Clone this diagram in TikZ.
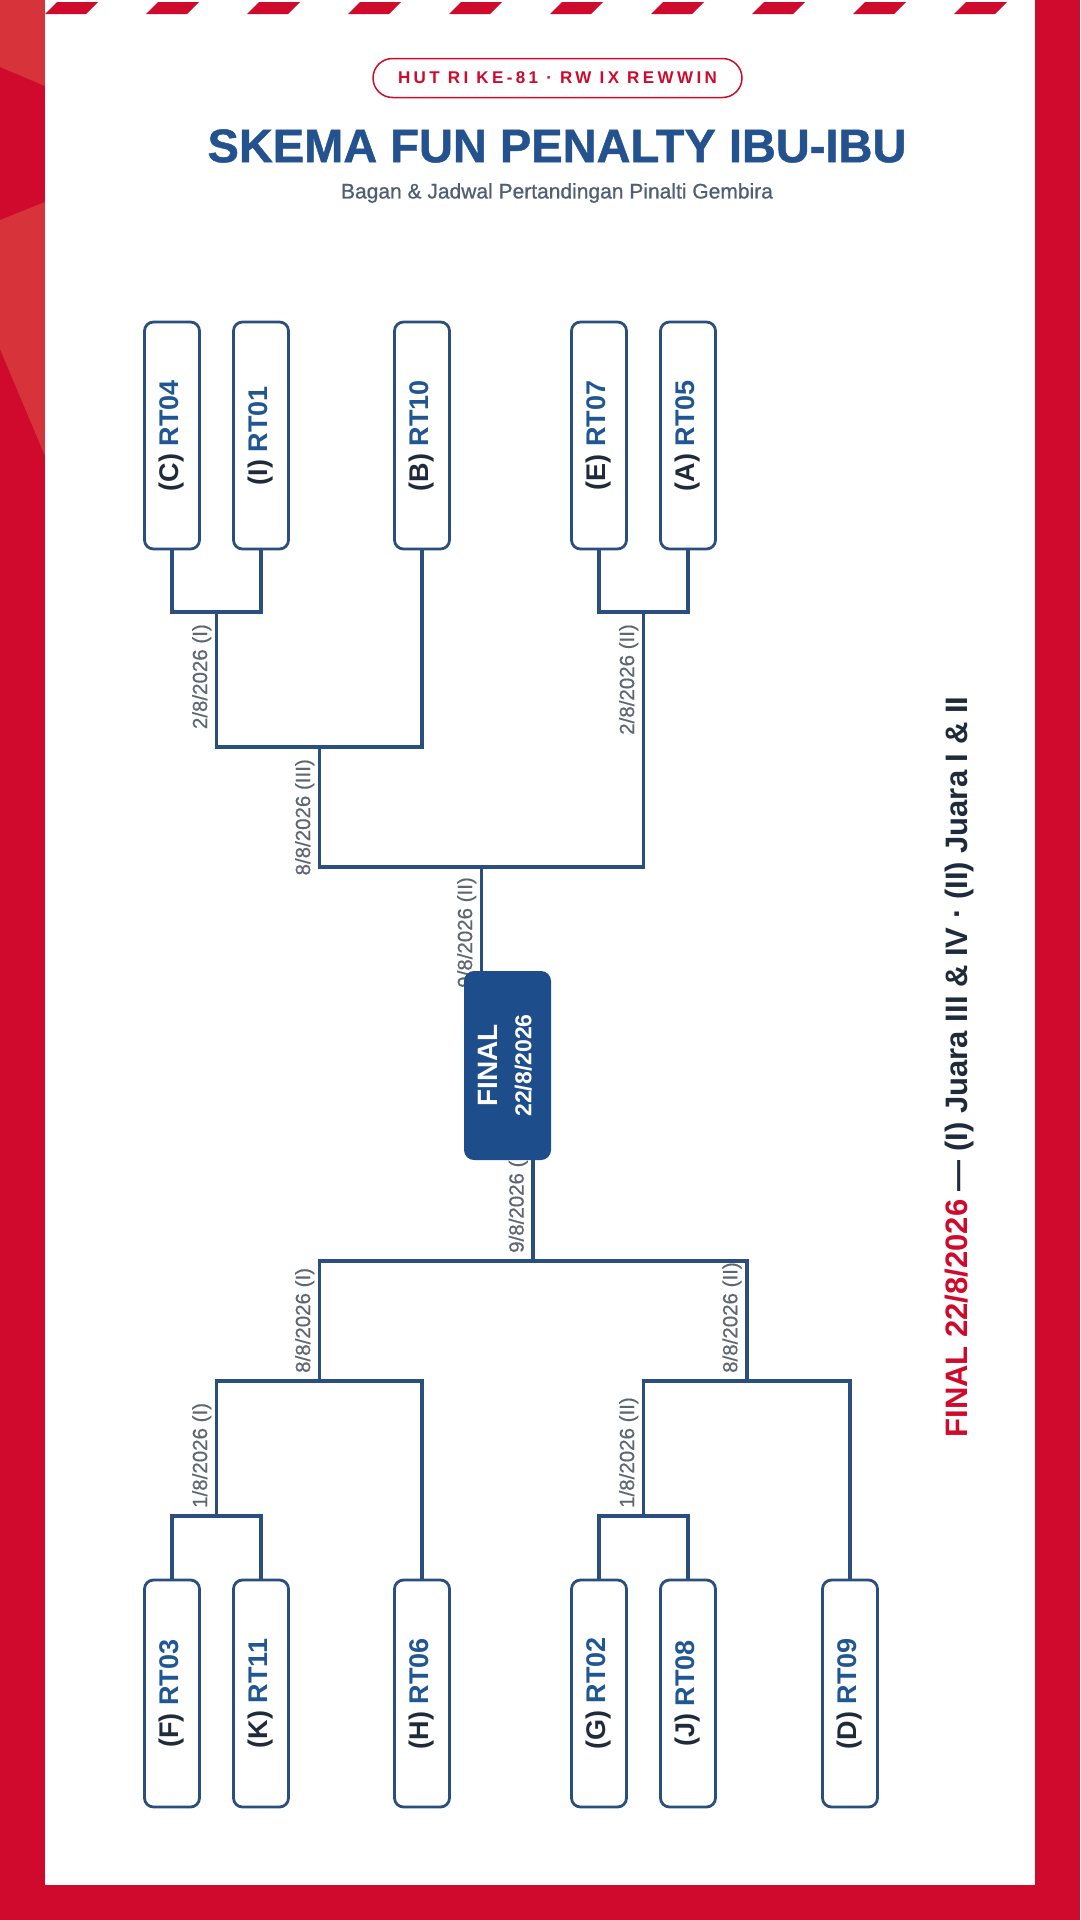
\documentclass[tikz,border=0pt]{standalone}
\usepackage{fontspec}
\setmainfont{Liberation Sans}
\usepackage{graphicx}
\usetikzlibrary{backgrounds}

\definecolor{merah}{HTML}{CF0A2C}
\definecolor{merahmuda}{HTML}{D6343A}
\definecolor{garis}{HTML}{2A4F7F}
\definecolor{finalbiru}{HTML}{1E4D8C}
\definecolor{judulbiru}{HTML}{23528E}
\definecolor{subabu}{HTML}{4F5E72}
\definecolor{abu}{HTML}{5E6672}
\definecolor{hitam}{HTML}{1F2B3A}
\definecolor{rtbiru}{HTML}{1F5693}

\newcommand{\timrt}[2]{\rotatebox{90}{\textcolor{hitam}{(#1)} \textcolor{rtbiru}{#2}}}
\newcommand{\tgl}[1]{\rotatebox{90}{#1}}

\begin{document}
\begin{tikzpicture}[x=1pt,y=-1pt]
\tikzstyle{team} = [rectangle, draw=garis, line width=2.8pt, fill=white,
rounded corners=9pt, minimum width=55pt, minimum height=227pt, inner sep=0pt,
font=\fontsize{27}{30}\selectfont\bfseries]
\tikzstyle{final} = [rectangle, fill=finalbiru, rounded corners=10pt,
minimum width=87pt, minimum height=189pt, inner sep=0pt, text=white,
font=\fontsize{28}{34}\selectfont]
\tikzstyle{pill} = [rectangle, draw=merah, line width=1.5pt, fill=white,
rounded corners=19.5pt, minimum width=369pt, minimum height=39pt, text=merah,
font=\fontsize{17}{19}\selectfont\bfseries\addfontfeature{LetterSpace=20}]
\tikzstyle{tanggal} = [inner sep=0pt, text=abu,
font=\fontsize{20.5}{22}\selectfont\addfontfeature{FakeBold=0.4}]
\tikzstyle{line} = [draw=garis, line width=3.5pt];

\useasboundingbox (0,0) rectangle (1080,1920);

% frame
\begin{scope}[on background layer]
\fill[merah] (0,0) rectangle (1080,1920);
\fill[merahmuda] (0,0) -- (45,0) -- (45,86) -- (0,67) -- cycle;
\fill[merahmuda] (0,220) -- (45,202) -- (45,456) -- (0,349) -- cycle;
\fill[white] (45,0) rectangle (1035,1885);
\foreach \i in {0,...,9}
  \fill[merah] ({45+101*\i},14) -- ++(41,0) -- ++(12,-12) -- ++(-41,0) -- cycle;
\end{scope}

% header
\node[pill] (badge) at (557.5,78) {HUT RI KE-81 · RW IX REWWIN};
\node[inner sep=0pt, text=judulbiru,
  font=\fontsize{47}{50}\selectfont\bfseries\addfontfeature{FakeBold=1}]
  (judul) at (557,146) {SKEMA FUN PENALTY IBU-IBU};
\node[inner sep=0pt, text=subabu,
  font=\fontsize{21}{24}\selectfont\addfontfeature{FakeBold=0.8}]
  (subjudul) at (557,193) {Bagan \& Jadwal Pertandingan Pinalti Gembira};

% row 1: top teams
\node[team] (tC) at (172,435.5) {\timrt{C}{RT04}};
\node[team] (tI) at (261,435.5) {\timrt{I}{RT01}};
\node[team] (tB) at (422,435.5) {\timrt{B}{RT10}};
\node[team] (tE) at (599,435.5) {\timrt{E}{RT07}};
\node[team] (tA) at (688,435.5) {\timrt{A}{RT05}};

% row 2: final
\node[final] (final) at (507.5,1065.5) {\rotatebox{90}{\begin{tabular}{@{}c@{}}
  \bfseries FINAL\\ {\fontsize{23}{34}\selectfont\bfseries 22/8/2026}\end{tabular}}};

% row 3: bottom teams
\node[team] (bF) at (172,1693.5) {\timrt{F}{RT03}};
\node[team] (bK) at (261,1693.5) {\timrt{K}{RT11}};
\node[team] (bH) at (422,1693.5) {\timrt{H}{RT06}};
\node[team] (bG) at (599,1693.5) {\timrt{G}{RT02}};
\node[team] (bJ) at (688,1693.5) {\timrt{J}{RT08}};
\node[team] (bD) at (850,1693.5) {\timrt{D}{RT09}};

% side note
\node[inner sep=0pt, font=\fontsize{31}{34}\selectfont\bfseries] (ket) at (959,1067)
  {\rotatebox{90}{\textcolor{merah}{FINAL 22/8/2026} \textcolor{hitam}{— (I) Juara III \& IV · (II) Juara I \& II}}};

% junctions
\coordinate (jCI) at (216.5,612);
\coordinate (jCIB) at (319.5,747);
\coordinate (jEA) at (643.5,612);
\coordinate (jTop) at (481.5,867);
\coordinate (jFK) at (216.5,1516);
\coordinate (jFKH) at (319.5,1381);
\coordinate (jGJ) at (643.5,1516);
\coordinate (jGJD) at (746.75,1381);
\coordinate (jBot) at (533,1261);

\tikzstyle{every path}=[line]
\path (tC.south) |- (jCI) -| (tI.south);
\path (jCI) |- (jCIB) -| (tB.south);
\path (tE.south) |- (jEA) -| (tA.south);
\path (jCIB) |- (jTop) -| (jEA);
\path (jTop) -- (jTop |- final.north);
\path (bF.north) |- (jFK) -| (bK.north);
\path (jFK) |- (jFKH) -| (bH.north);
\path (bG.north) |- (jGJ) -| (bJ.north);
\path (jGJ) |- (jGJD) -| (bD.north);
\path (jFKH) |- (jBot) -| (jGJD);
\path (jBot) -- (jBot |- final.south);
\tikzstyle{every path}=[]

% dates
\begin{scope}[on background layer]
\node[tanggal, anchor=north east] (d1) at ([xshift=-5pt,yshift=-12pt]jCI) {\tgl{2/8/2026 (I)}};
\node[tanggal, anchor=north east] (d2) at ([xshift=-5pt,yshift=-12pt]jEA) {\tgl{2/8/2026 (II)}};
\node[tanggal, anchor=north east] (d3) at ([xshift=-5pt,yshift=-12pt]jCIB) {\tgl{8/8/2026 (III)}};
\node[tanggal, anchor=north east] (d4) at ([xshift=-5pt,yshift=-10pt]jTop) {\tgl{9/8/2026 (II)}};
\node[tanggal, anchor=south east] (d5) at ([xshift=-5pt,yshift=8pt]jBot) {\tgl{9/8/2026 (I)}};
\node[tanggal, anchor=south east] (d6) at ([xshift=-5pt,yshift=8pt]jFKH) {\tgl{8/8/2026 (I)}};
\node[tanggal, anchor=south east] (d7) at ([xshift=-5pt,yshift=8pt]jGJD) {\tgl{8/8/2026 (II)}};
\node[tanggal, anchor=south east] (d8) at ([xshift=-5pt,yshift=8pt]jFK) {\tgl{1/8/2026 (I)}};
\node[tanggal, anchor=south east] (d9) at ([xshift=-5pt,yshift=8pt]jGJ) {\tgl{1/8/2026 (II)}};
\end{scope}

\end{tikzpicture}
\end{document}
